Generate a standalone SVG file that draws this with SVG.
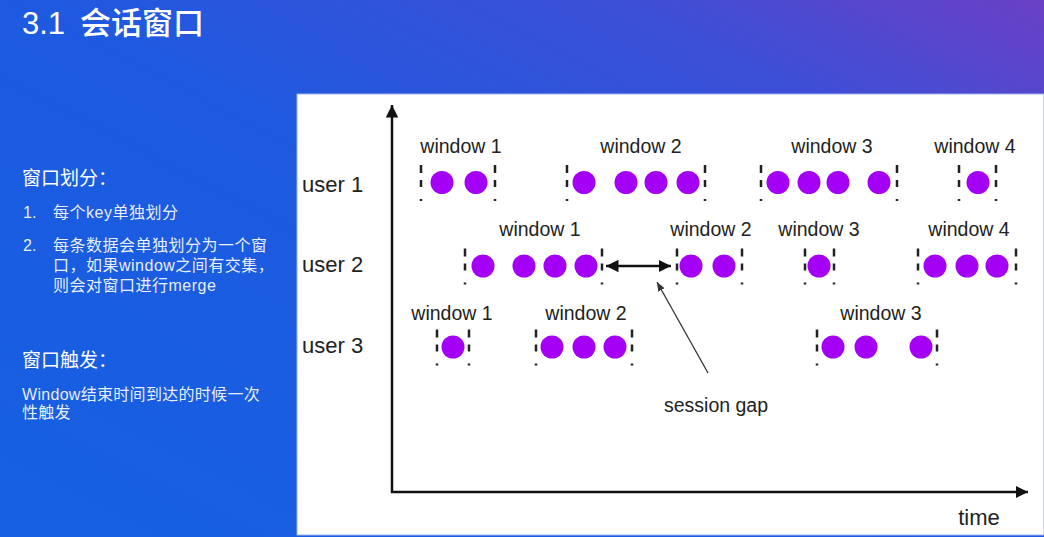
<svg xmlns="http://www.w3.org/2000/svg" width="1044" height="537" viewBox="0 0 1044 537">
<defs>
<linearGradient id="bg" x1="0" y1="1" x2="1" y2="0">
<stop offset="0" stop-color="#1560e2"/>
<stop offset="0.5" stop-color="#1d5ae0"/>
<stop offset="0.8" stop-color="#3c4fd6"/>
<stop offset="1" stop-color="#6a40c6"/>
</linearGradient>
<marker id="ah" viewBox="0 0 10 10" refX="10" refY="5" markerWidth="5" markerHeight="5" orient="auto-start-reverse" markerUnits="strokeWidth">
<path d="M0,0 L10,5 L0,10 z" fill="#111"/>
</marker>
<marker id="ah2" viewBox="0 0 10 10" refX="10" refY="5" markerWidth="7" markerHeight="7" orient="auto" markerUnits="strokeWidth">
<path d="M0,1 L10,5 L0,9 z" fill="#333"/>
</marker>
<style>
.cjk{font-family:"Liberation Sans","Noto Sans CJK SC",sans-serif;fill:#fff}
.lbl{font-family:"Liberation Sans",Arial,sans-serif;fill:#222}
.win{font-size:19.5px;text-anchor:middle}
.usr{font-size:22px}
.dot{fill:#a300f5}
.dash{stroke:#222;stroke-width:2.5;stroke-dasharray:8 7 7 12 2;fill:none}
.axis{stroke:#111;stroke-width:2.5;fill:none}
</style>
</defs>
<rect x="0" y="0" width="1044" height="537" fill="url(#bg)"/>
<rect x="297" y="94" width="747" height="441" fill="#fff" stroke="#9fb4ee" stroke-width="1"/>

<g id="title">
<text class="cjk" x="22" y="34" font-size="31" font-weight="500">3.1<tspan x="80">会话窗口</tspan></text>
</g>

<g id="left-text" class="cjk">
<text x="22" y="185" font-size="19">窗口划分：</text>
<text x="23" y="218" font-size="16" fill-opacity="0.92">1.</text>
<text x="53" y="218" font-size="16" letter-spacing="0.5" fill-opacity="0.92">每个key单独划分</text>
<text x="23" y="251" font-size="16" fill-opacity="0.92">2.</text>
<text x="53" y="251" font-size="16" letter-spacing="0.5" fill-opacity="0.92">每条数据会单独划分为一个窗</text>
<text x="53" y="271" font-size="16" letter-spacing="0.5" fill-opacity="0.92">口，如果window之间有交集，</text>
<text x="53" y="291" font-size="16" letter-spacing="0.5" fill-opacity="0.92">则会对窗口进行merge</text>
<text x="22" y="367" font-size="19">窗口触发：</text>
<text x="22" y="400" font-size="16" letter-spacing="0.3" fill-opacity="0.92">Window结束时间到达的时候一次</text>
<text x="22" y="418" font-size="16" letter-spacing="0.3" fill-opacity="0.92">性触发</text>
</g>

<g id="connectors">
<line class="axis" x1="392" y1="493" x2="392" y2="105" marker-end="url(#ah)"/>
<line class="axis" x1="391" y1="492" x2="1028" y2="492" marker-end="url(#ah)"/>
<line class="axis" x1="606" y1="266" x2="671" y2="266" marker-start="url(#ah)" marker-end="url(#ah)"/>
<line x1="708" y1="373" x2="657" y2="282" stroke="#333" stroke-width="1.3" marker-end="url(#ah2)"/>
</g>

<g id="user1"><text class="lbl usr" x="302" y="192">user 1</text></g>
<g id="user2"><text class="lbl usr" x="302" y="272">user 2</text></g>
<g id="user3"><text class="lbl usr" x="302" y="353">user 3</text></g>

<g id="u1-window1">
<text class="lbl win" x="461" y="153">window 1</text>
<line class="dash" x1="421" y1="165" x2="421" y2="201"/>
<line class="dash" x1="495" y1="165" x2="495" y2="201"/>
<circle class="dot" cx="442" cy="182.5" r="11.5"/>
<circle class="dot" cx="476" cy="182.5" r="11.5"/>
</g>
<g id="u1-window2">
<text class="lbl win" x="641" y="153">window 2</text>
<line class="dash" x1="567" y1="165" x2="567" y2="201"/>
<line class="dash" x1="705" y1="165" x2="705" y2="201"/>
<circle class="dot" cx="584" cy="182.5" r="11.5"/>
<circle class="dot" cx="626" cy="182.5" r="11.5"/>
<circle class="dot" cx="656" cy="182.5" r="11.5"/>
<circle class="dot" cx="688" cy="182.5" r="11.5"/>
</g>
<g id="u1-window3">
<text class="lbl win" x="832" y="153">window 3</text>
<line class="dash" x1="761" y1="165" x2="761" y2="201"/>
<line class="dash" x1="897" y1="165" x2="897" y2="201"/>
<circle class="dot" cx="778" cy="182.5" r="11.5"/>
<circle class="dot" cx="809" cy="182.5" r="11.5"/>
<circle class="dot" cx="838" cy="182.5" r="11.5"/>
<circle class="dot" cx="879" cy="182.5" r="11.5"/>
</g>
<g id="u1-window4">
<text class="lbl win" x="975" y="153">window 4</text>
<line class="dash" x1="959" y1="165" x2="959" y2="201"/>
<line class="dash" x1="996" y1="165" x2="996" y2="201"/>
<circle class="dot" cx="978" cy="182.5" r="11.5"/>
</g>

<g id="u2-window1">
<text class="lbl win" x="540" y="236">window 1</text>
<line class="dash" x1="465" y1="248.5" x2="465" y2="284.5"/>
<line class="dash" x1="602" y1="248.5" x2="602" y2="284.5"/>
<circle class="dot" cx="483" cy="266" r="11.5"/>
<circle class="dot" cx="524" cy="266" r="11.5"/>
<circle class="dot" cx="555" cy="266" r="11.5"/>
<circle class="dot" cx="586" cy="266" r="11.5"/>
</g>
<g id="u2-window2">
<text class="lbl win" x="711" y="236">window 2</text>
<line class="dash" x1="677" y1="248.5" x2="677" y2="284.5"/>
<line class="dash" x1="742" y1="248.5" x2="742" y2="284.5"/>
<circle class="dot" cx="691" cy="266" r="11.5"/>
<circle class="dot" cx="724" cy="266" r="11.5"/>
</g>
<g id="u2-window3">
<text class="lbl win" x="819" y="236">window 3</text>
<line class="dash" x1="805" y1="248.5" x2="805" y2="284.5"/>
<line class="dash" x1="834" y1="248.5" x2="834" y2="284.5"/>
<circle class="dot" cx="819" cy="266" r="11.5"/>
</g>
<g id="u2-window4">
<text class="lbl win" x="969" y="236">window 4</text>
<line class="dash" x1="918" y1="248.5" x2="918" y2="284.5"/>
<line class="dash" x1="1016" y1="248.5" x2="1016" y2="284.5"/>
<circle class="dot" cx="935" cy="266" r="11.5"/>
<circle class="dot" cx="967" cy="266" r="11.5"/>
<circle class="dot" cx="997" cy="266" r="11.5"/>
</g>

<g id="u3-window1">
<text class="lbl win" x="452" y="320">window 1</text>
<line class="dash" x1="437" y1="329.5" x2="437" y2="365.5"/>
<line class="dash" x1="469" y1="329.5" x2="469" y2="365.5"/>
<circle class="dot" cx="453" cy="347" r="11.5"/>
</g>
<g id="u3-window2">
<text class="lbl win" x="586" y="320">window 2</text>
<line class="dash" x1="536" y1="329.5" x2="536" y2="365.5"/>
<line class="dash" x1="632" y1="329.5" x2="632" y2="365.5"/>
<circle class="dot" cx="552" cy="347" r="11.5"/>
<circle class="dot" cx="584" cy="347" r="11.5"/>
<circle class="dot" cx="615" cy="347" r="11.5"/>
</g>
<g id="u3-window3">
<text class="lbl win" x="881" y="320">window 3</text>
<line class="dash" x1="817" y1="329.5" x2="817" y2="365.5"/>
<line class="dash" x1="937" y1="329.5" x2="937" y2="365.5"/>
<circle class="dot" cx="833" cy="347" r="11.5"/>
<circle class="dot" cx="866" cy="347" r="11.5"/>
<circle class="dot" cx="921" cy="347" r="11.5"/>
</g>

<g id="session-gap"><text class="lbl" x="716" y="412" font-size="19.5" text-anchor="middle">session gap</text></g>
<g id="time-label"><text class="lbl" x="979" y="525" font-size="22" text-anchor="middle">time</text></g>
</svg>
